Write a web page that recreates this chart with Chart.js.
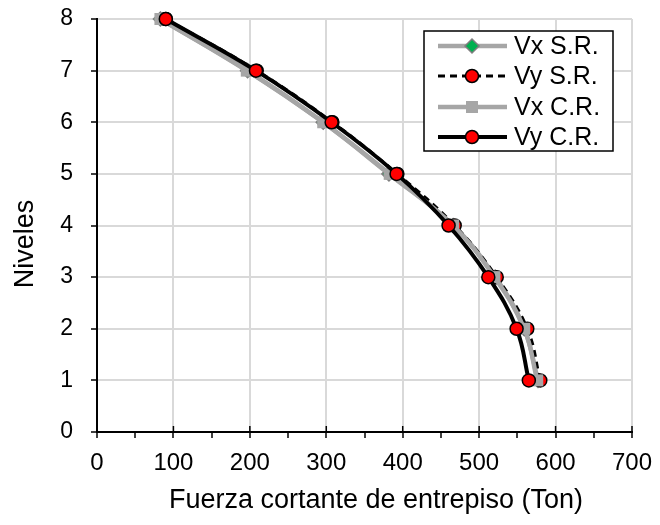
<!DOCTYPE html>
<html>
<head>
<meta charset="utf-8">
<script src="https://cdn.jsdelivr.net/npm/chart.js@4/dist/chart.umd.min.js"></script>
<style>
html,body{margin:0;padding:0;background:#fff;}
#wrap{width:660px;height:525px;}
</style>
</head>
<body>
<div id="wrap"><canvas id="c" width="660" height="525"></canvas></div>
<script>
// levels and shear forces
const niveles = [1, 2, 3, 4, 5, 6, 7, 8];
const vxSR = [577, 559, 521, 466, 382, 296, 197, 83];
const vySR = [580, 563, 523, 468, 393, 308, 209, 90];
const vxCR = [576, 559, 520, 466, 383, 296, 196, 83];
const vyCR = [565, 549, 512, 460, 392, 307, 208, 90];
const xTicks = [0, 100, 200, 300, 400, 500, 600, 700];
const yTicks = [0, 1, 2, 3, 4, 5, 6, 7, 8];
const xTitle = 'Fuerza cortante de entrepiso (Ton)';
const yTitle = 'Niveles';

const FONT = "'Liberation Sans', Arial, sans-serif";

function pts(xs){
  return xs.map(function(x, i){ return {x: x, y: niveles[i]}; });
}

// legend box inside the plot + axis titles
const extras = {
  id: 'extras',
  afterDraw(chart){
    const ctx = chart.ctx;
    const x0 = 424, y0 = 31, w = 189, h = 120;
    ctx.save();
    ctx.fillStyle = '#fff';
    ctx.fillRect(x0, y0, w, h);
    ctx.strokeStyle = '#000';
    ctx.lineWidth = 1.5;
    ctx.strokeRect(x0, y0, w, h);
    const rows = [46, 76, 107, 137];
    chart.data.datasets.forEach(function(ds, i){
      const y = rows[i];
      ctx.beginPath();
      ctx.setLineDash(ds.borderDash || []);
      ctx.strokeStyle = ds.borderColor;
      ctx.lineWidth = ds.borderWidth;
      ctx.moveTo(438, y);
      ctx.lineTo(507, y);
      ctx.stroke();
      ctx.setLineDash([]);
      ctx.fillStyle = ds.pointBackgroundColor;
      ctx.strokeStyle = ds.pointBorderColor;
      ctx.lineWidth = ds.pointBorderWidth;
      Chart.helpers.drawPoint(ctx, {
        pointStyle: ds.pointStyle,
        radius: ds.pointRadius,
        rotation: 0,
        borderWidth: ds.pointBorderWidth
      }, 472, y);
      ctx.fillStyle = '#000';
      ctx.font = '25px ' + FONT;
      ctx.textBaseline = 'middle';
      ctx.textAlign = 'left';
      ctx.fillText(ds.label, 514, y + 1);
    });
    // major x ticks also poke up into the plot
    const xs = chart.scales.x;
    const yb = chart.chartArea.bottom;
    ctx.strokeStyle = '#000';
    ctx.lineWidth = 1.5;
    xTicks.forEach(function(v){
      const px = xs.getPixelForValue(v);
      ctx.beginPath();
      ctx.moveTo(px, yb);
      ctx.lineTo(px, yb - 6);
      ctx.stroke();
    });
    // axis titles
    ctx.fillStyle = '#000';
    ctx.font = '27px ' + FONT;
    ctx.textAlign = 'center';
    ctx.textBaseline = 'alphabetic';
    ctx.fillText(xTitle, 376, 508);
    ctx.translate(33, 244);
    ctx.rotate(-Math.PI / 2);
    ctx.fillText(yTitle, 0, 0);
    ctx.restore();
  }
};

new Chart(document.getElementById('c'), {
  type: 'scatter',
  data: {
    datasets: [
      {
        label: 'Vx S.R.',
        data: pts(vxSR),
        showLine: true,
        tension: 0.4,
        borderColor: '#a6a6a6',
        borderWidth: 4.5,
        pointStyle: 'rectRot',
        pointRadius: 7,
        pointBackgroundColor: '#00b050',
        pointBorderColor: '#7f7f7f',
        pointBorderWidth: 1.5,
        clip: false,
        order: 4
      },
      {
        label: 'Vy S.R.',
        data: pts(vySR),
        showLine: true,
        tension: 0.4,
        borderColor: '#000',
        borderWidth: 3,
        borderDash: [7, 5],
        pointStyle: 'circle',
        pointRadius: 6.5,
        pointBackgroundColor: '#ff0000',
        pointBorderColor: '#000',
        pointBorderWidth: 1.5,
        clip: false,
        order: 3
      },
      {
        label: 'Vx C.R.',
        data: pts(vxCR),
        showLine: true,
        tension: 0.4,
        borderColor: '#a6a6a6',
        borderWidth: 4.5,
        pointStyle: 'rect',
        pointRadius: 8.5,
        pointBackgroundColor: '#a6a6a6',
        pointBorderColor: '#a6a6a6',
        pointBorderWidth: 0,
        clip: false,
        order: 2
      },
      {
        label: 'Vy C.R.',
        data: pts(vyCR),
        showLine: true,
        tension: 0.4,
        borderColor: '#000',
        borderWidth: 4,
        pointStyle: 'circle',
        pointRadius: 6.5,
        pointBackgroundColor: '#ff0000',
        pointBorderColor: '#000',
        pointBorderWidth: 1.5,
        clip: false,
        order: 1
      }
    ]
  },
  options: {
    responsive: false,
    animation: false,
    devicePixelRatio: 1,
    layout: { padding: { top: 19, right: 28, left: 0, bottom: 0 } },
    plugins: {
      legend: { display: false },
      tooltip: { enabled: false }
    },
    scales: {
      x: {
        type: 'linear',
        min: 0,
        max: 700,
        afterFit: function(s){
          s.height = 93;
          s.paddingLeft = 0; s.paddingRight = 0;
        },
        afterBuildTicks: function(s){
          const t = [];
          for (let v = 0; v <= 700; v += 50) t.push({value: v});
          s.ticks = t;
        },
        ticks: {
          color: '#000',
          font: { family: FONT, size: 24 },
          padding: 11,
          maxRotation: 0,
          autoSkip: false,
          callback: function(v){ return xTicks.indexOf(v) >= 0 ? String(v) : ''; }
        },
        grid: {
          color: function(c){ return (c.tick && c.tick.value % 100 === 0) ? '#d9d9d9' : 'rgba(0,0,0,0)'; },
          lineWidth: 2,
          tickColor: '#000',
          tickLength: 6,
          tickWidth: 1.5
        },
        border: { color: '#000', width: 2 },
        title: { display: false }
      },
      y: {
        type: 'linear',
        min: 0,
        max: 8,
        afterFit: function(s){
          s.width = 97;
          s.paddingTop = 0; s.paddingBottom = 0;
        },
        afterBuildTicks: function(s){
          s.ticks = yTicks.map(function(v){ return {value: v}; });
        },
        ticks: {
          color: '#000',
          font: { family: FONT, size: 23 },
          padding: 18
        },
        grid: {
          color: '#d9d9d9',
          lineWidth: 2,
          tickColor: '#000',
          tickLength: 6,
          tickWidth: 1.5
        },
        border: { color: '#000', width: 2 },
        title: { display: false }
      }
    }
  },
  plugins: [extras]
});
</script>
</body>
</html>
